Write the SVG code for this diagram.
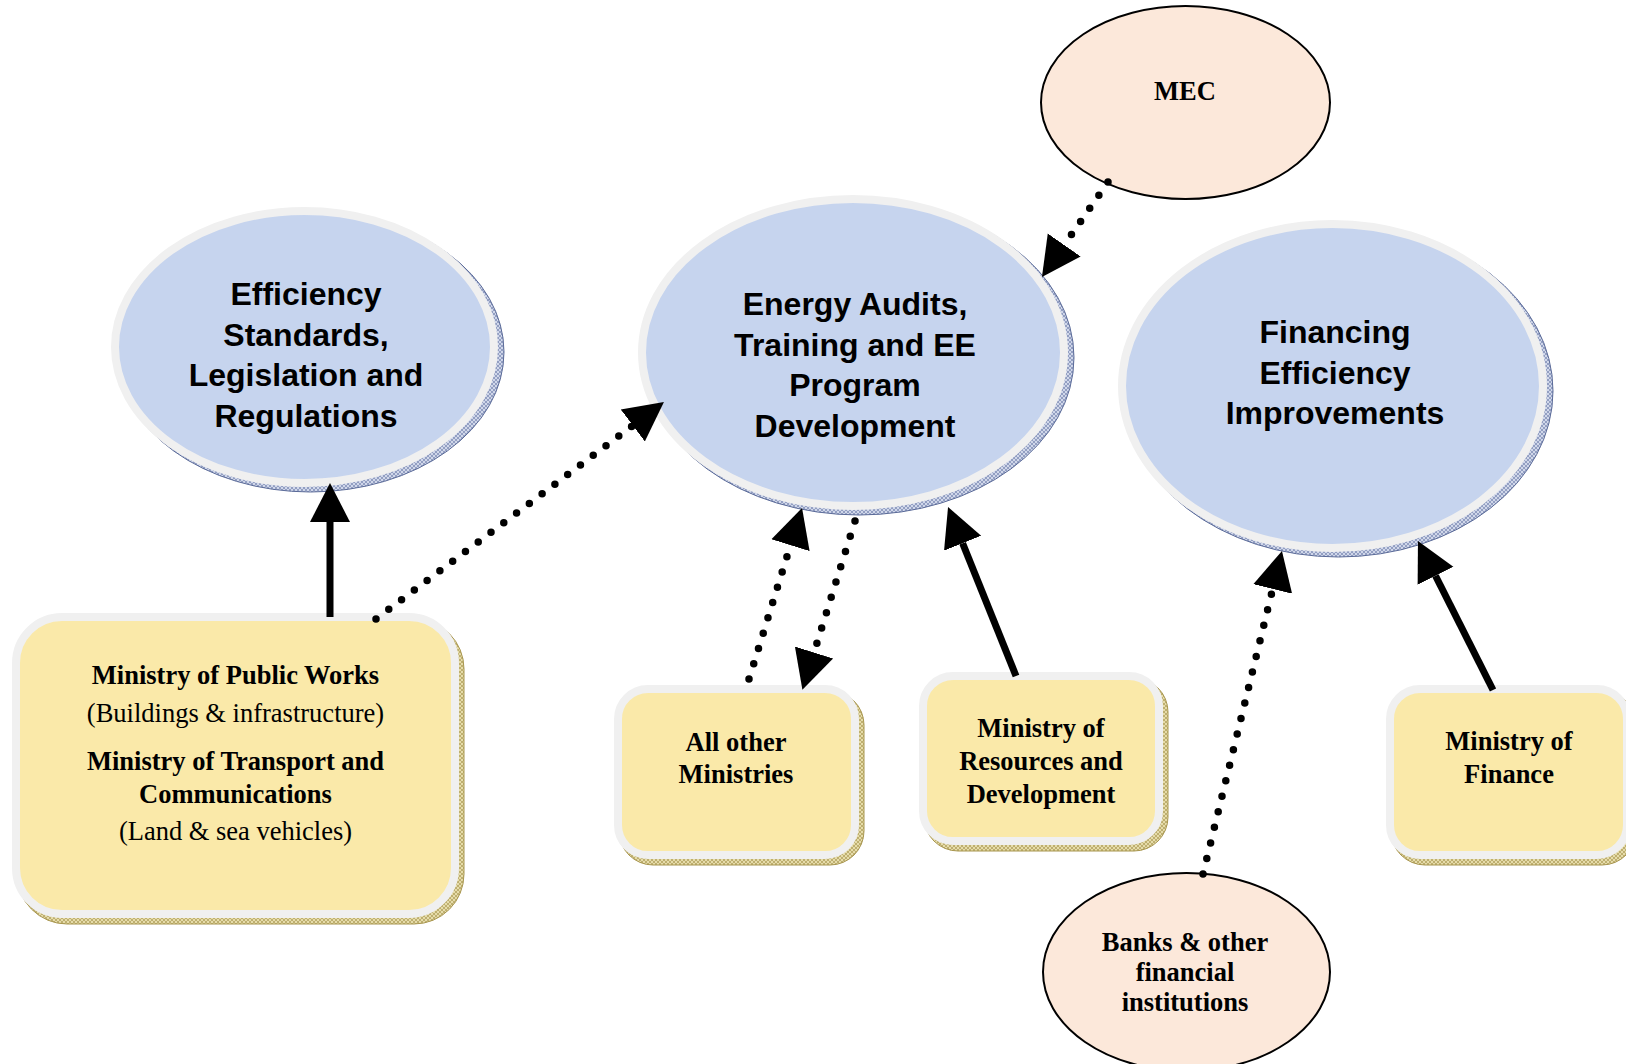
<svg xmlns="http://www.w3.org/2000/svg" width="1626" height="1064" viewBox="0 0 1626 1064">
<defs>
<style>
.bg{fill:#ffffff}
.topic{fill:#c6d4ee;stroke:#f0f0f0;stroke-width:8}
.tshadow{fill:url(#hatchB);stroke:#5a6a98;stroke-width:1}
.box{fill:#fae9a9;stroke:#f0f0f0;stroke-width:8}
.bshadow{fill:url(#hatchY);stroke:#a8964f;stroke-width:1}
.peach{fill:#fce8da;stroke:#000000;stroke-width:2}
.sans{font-family:"Liberation Sans",Arial,sans-serif;font-weight:bold;font-size:32px;fill:#000;text-anchor:middle}
.serifb{font-family:"Liberation Serif","Times New Roman",serif;font-weight:bold;font-size:26.5px;fill:#000;text-anchor:middle}
.serif{font-family:"Liberation Serif","Times New Roman",serif;font-weight:normal;font-size:26.5px;fill:#000;text-anchor:middle}
.solid{fill:none;stroke:#000;stroke-width:7;marker-end:url(#head)}
.dotted{fill:none;stroke:#000;stroke-width:7.5;stroke-linecap:round;stroke-dasharray:0 16;marker-end:url(#head)}
</style>
<pattern id="hatchB" width="4" height="4" patternUnits="userSpaceOnUse">
<rect width="4" height="4" fill="#d0d7ea"/>
<path d="M0,0 L4,4 M4,0 L0,4" stroke="#6a78a6" stroke-width="0.6"/>
</pattern>
<pattern id="hatchY" width="4" height="4" patternUnits="userSpaceOnUse">
<rect width="4" height="4" fill="#e6dcaa"/>
<path d="M0,0 L4,4 M4,0 L0,4" stroke="#a39048" stroke-width="0.6"/>
</pattern>
<marker id="head" markerUnits="userSpaceOnUse" markerWidth="42" markerHeight="42" viewBox="0 -21 42 42" refX="0" refY="0" orient="auto">
<path d="M0,-20 L39,0 L0,20 Z" fill="#000"/>
</marker>
</defs>
<rect class="bg" x="0" y="0" width="1626" height="1064"/>

<g id="node-standards">
<ellipse class="tshadow" cx="310.5" cy="352" rx="193.5" ry="140"/>
<ellipse class="topic" cx="304.5" cy="347" rx="189.5" ry="136"/>
<text class="sans" x="306" y="305">Efficiency</text>
<text class="sans" x="306" y="345.5">Standards,</text>
<text class="sans" x="306" y="386">Legislation and</text>
<text class="sans" x="306" y="426.5">Regulations</text>
</g>

<g id="node-audits">
<ellipse class="tshadow" cx="859" cy="357.5" rx="215" ry="157.5"/>
<ellipse class="topic" cx="853" cy="352.5" rx="211" ry="153.5"/>
<text class="sans" x="855" y="315">Energy Audits,</text>
<text class="sans" x="855" y="356">Training and EE</text>
<text class="sans" x="855" y="396">Program</text>
<text class="sans" x="855" y="437">Development</text>
</g>

<g id="node-financing">
<ellipse class="tshadow" cx="1338.5" cy="391" rx="214.5" ry="166"/>
<ellipse class="topic" cx="1332.5" cy="386" rx="210.5" ry="162"/>
<text class="sans" x="1335" y="343">Financing</text>
<text class="sans" x="1335" y="384">Efficiency</text>
<text class="sans" x="1335" y="424">Improvements</text>
</g>

<g id="node-mec">
<ellipse class="peach" cx="1185.5" cy="102.5" rx="144.5" ry="96.5"/>
<text class="serifb" x="1185" y="100">MEC</text>
</g>

<g id="node-banks">
<ellipse class="peach" cx="1186.5" cy="972" rx="143.5" ry="99"/>
<text class="serifb" x="1185" y="951">Banks &amp; other</text>
<text class="serifb" x="1185" y="981">financial</text>
<text class="serifb" x="1185" y="1011">institutions</text>
</g>

<g id="node-publicworks">
<rect class="bshadow" x="17" y="619" width="447" height="305" rx="50"/>
<rect class="box" x="16" y="617" width="439" height="297" rx="46"/>
<text class="serifb" x="235.5" y="684">Ministry of Public Works</text>
<text class="serif" x="235.5" y="722">(Buildings &amp; infrastructure)</text>
<text class="serifb" x="235.5" y="770">Ministry of Transport and</text>
<text class="serifb" x="235.5" y="803">Communications</text>
<text class="serif" x="235.5" y="840">(Land &amp; sea vehicles)</text>
</g>

<g id="node-allother">
<rect class="bshadow" x="619" y="691" width="245" height="174" rx="34"/>
<rect class="box" x="618" y="689" width="237" height="166" rx="30"/>
<text class="serifb" x="736" y="751">All other</text>
<text class="serifb" x="736" y="783">Ministries</text>
</g>

<g id="node-resources">
<rect class="bshadow" x="924" y="678" width="244" height="173" rx="34"/>
<rect class="box" x="923" y="676" width="236" height="165" rx="30"/>
<text class="serifb" x="1041" y="737">Ministry of</text>
<text class="serifb" x="1041" y="769.5">Resources and</text>
<text class="serifb" x="1041" y="803">Development</text>
</g>

<g id="node-finance">
<rect class="bshadow" x="1391" y="691" width="245" height="174" rx="34"/>
<rect class="box" x="1390" y="689" width="237" height="166" rx="30"/>
<text class="serifb" x="1509" y="750">Ministry of</text>
<text class="serifb" x="1509" y="783">Finance</text>
</g>

<g id="connectors">
<path class="solid" d="M330,617 L330,522"/>
<path class="dotted" d="M376,619 L632.8,425.5"/>
<path class="dotted" d="M1108,182 L1064.2,245"/>
<path class="dotted" d="M749,679 L790.5,545.2"/>
<path class="dotted" d="M855,521 L814,652.5"/>
<path class="solid" d="M1016,676 L962.6,543.2"/>
<path class="dotted" d="M1203,874 L1272.7,588.9"/>
<path class="solid" d="M1493,690 L1435.5,575.8"/>
</g>
</svg>
